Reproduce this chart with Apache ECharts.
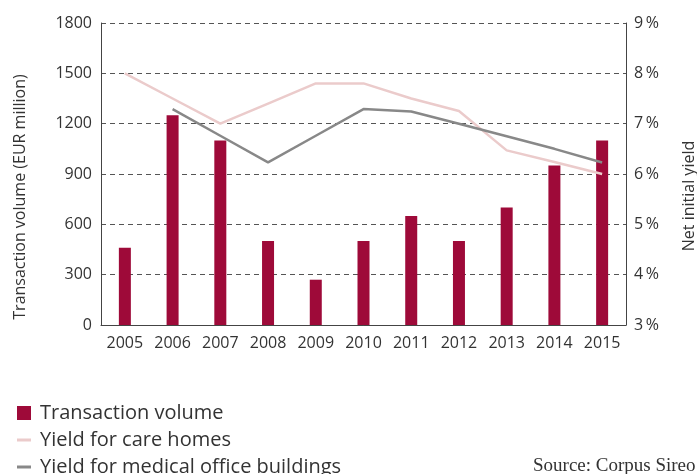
<!DOCTYPE html>
<html>
<head>
<meta charset="utf-8">
<script src="https://cdn.jsdelivr.net/npm/echarts@6/dist/echarts.min.js"></script>
<style>
  html, body { margin: 0; padding: 0; background: #fff; }
  #chart { width: 697px; height: 474px; }
</style>
</head>
<body>
<div id="chart"></div>
<script>
var years = ["2005", "2006", "2007", "2008", "2009", "2010", "2011", "2012", "2013", "2014", "2015"];
var volume = [460, 1250, 1100, 500, 270, 500, 650, 500, 700, 950, 1100];
var careHomes = [8.0, 7.5, 7.0, 7.4, 7.8, 7.8, 7.5, 7.25, 6.47, 6.24, 6.0];
var medicalOffice = [null, 7.29, 6.76, 6.23, 6.76, 7.29, 7.24, 7.0, 6.75, 6.5, 6.23];

var font = "Open Sans";
var textColor = "#333";
var chart = echarts.init(document.getElementById("chart"));

var option = {
    animation: false,
    grid: { left: 101, right: 71, top: 23, bottom: 149 },
    legend: {
        orient: "vertical",
        left: 12,
        top: 398,
        height: 100,
        itemGap: 7,
        itemWidth: 14,
        itemHeight: 14,
        symbolKeepAspect: true,
        textStyle: { fontFamily: font, fontSize: 20, color: textColor, padding: [0, 0, 0, 4] },
        data: [
            { name: "Transaction volume", icon: "rect" },
            { name: "Yield for care homes", icon: "path://M0,0H14V3H0Z", itemStyle: { color: "#EBCBCB" } },
            { name: "Yield for medical office buildings", icon: "path://M0,0H14V3H0Z", itemStyle: { color: "#888" } }
        ]
    },
    xAxis: {
        type: "category",
        data: years,
        axisLine: { lineStyle: { color: "#444", width: 1 } },
        axisTick: { inside: true, length: 5, lineStyle: { color: "#444" } },
        axisLabel: { fontFamily: font, fontSize: 16, color: textColor, margin: 10 }
    },
    yAxis: [
        {
            type: "value",
            min: 0,
            max: 1800,
            interval: 300,
            axisLine: { show: true, lineStyle: { color: "#444" } },
            axisTick: { show: false },
            axisLabel: {
                fontFamily: font, fontSize: 16, color: textColor, margin: 9,
                formatter: function (v) { return String(v); }
            },
            splitLine: { lineStyle: { color: "#555", type: [5, 4], width: 1 } }
        },
        {
            type: "value",
            min: 3,
            max: 9,
            interval: 1,
            axisLine: { show: true, lineStyle: { color: "#444" } },
            axisTick: { show: false },
            axisLabel: { fontFamily: font, fontSize: 16, color: textColor, margin: 8, formatter: "{value}\u2009%" },
            splitLine: { show: false }
        }
    ],
    series: [
        {
            name: "Transaction volume",
            type: "bar",
            data: volume,
            barWidth: 12,
            itemStyle: { color: "#9E0A39" }
        },
        {
            name: "Yield for care homes",
            type: "line",
            yAxisIndex: 1,
            data: careHomes,
            symbol: "none",
            lineStyle: { color: "#EBCBCB", width: 2.5 },
            itemStyle: { color: "#EBCBCB" }
        },
        {
            name: "Yield for medical office buildings",
            type: "line",
            yAxisIndex: 1,
            data: medicalOffice,
            symbol: "none",
            lineStyle: { color: "#888", width: 2.5 },
            itemStyle: { color: "#888" }
        }
    ],
    graphic: [
        {
            type: "text",
            x: 20,
            y: 197,
            rotation: Math.PI / 2,
            style: {
                text: "Transaction volume (EUR million)", fontFamily: font, fontSize: 16,
                fill: textColor, align: "center", verticalAlign: "middle"
            }
        },
        {
            type: "text",
            x: 689,
            y: 196,
            rotation: Math.PI / 2,
            style: {
                text: "Net initial yield", fontFamily: font, fontSize: 16,
                fill: textColor, align: "center", verticalAlign: "middle"
            }
        },
        {
            type: "text",
            x: 533,
            y: 457,
            style: { text: "Source: Corpus Sireo", fontFamily: "Liberation Serif", fontSize: 19, fill: textColor }
        }
    ]
};

chart.setOption(option);
</script>
</body>
</html>
